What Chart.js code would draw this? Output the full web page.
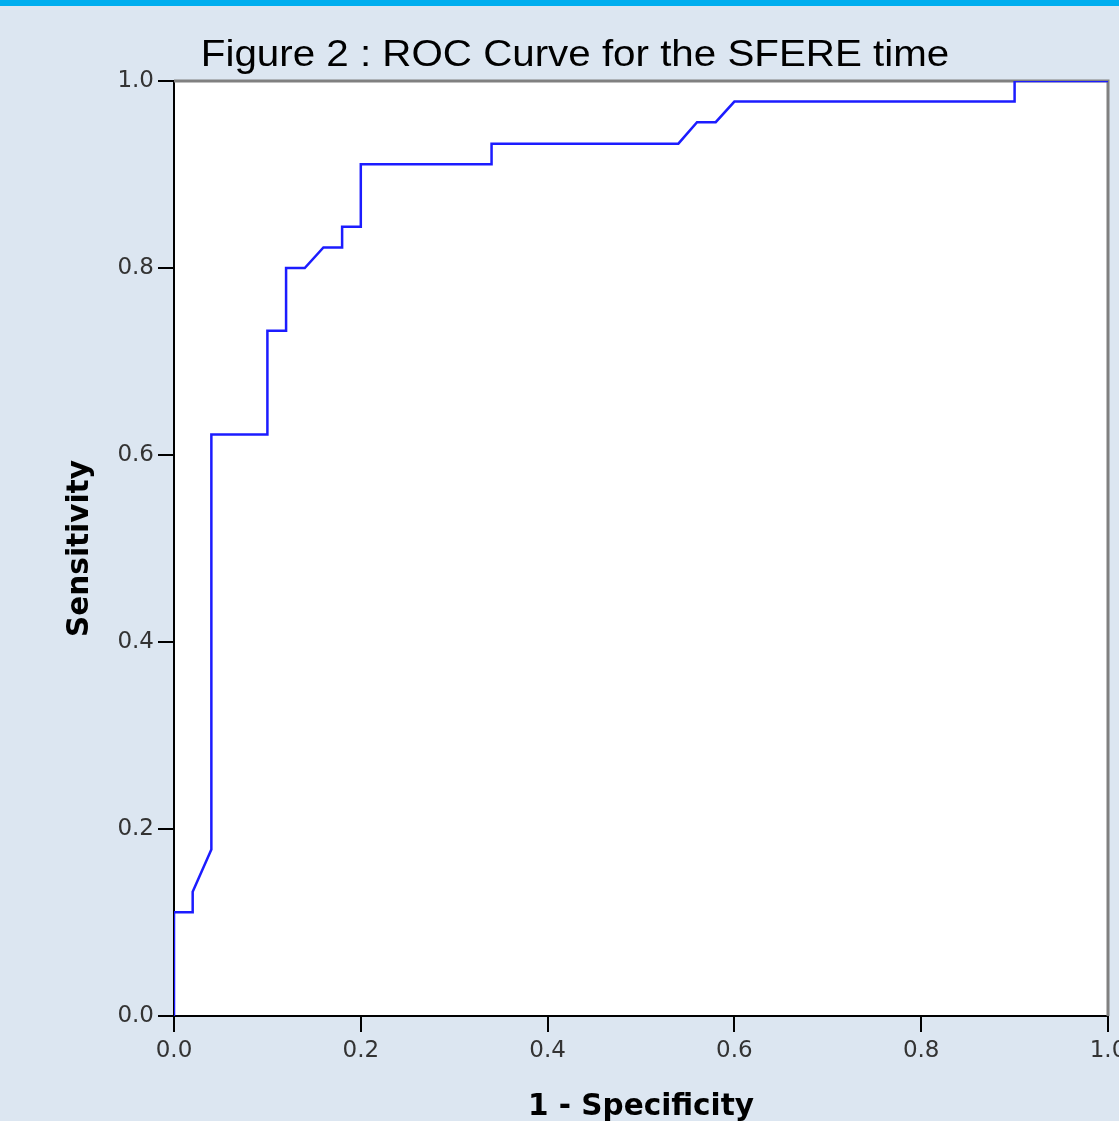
<!DOCTYPE html>
<html>
<head>
<meta charset="utf-8">
<title>ROC Curve for the SFERE time</title>
<script src="https://cdn.jsdelivr.net/npm/chart.js@4.4.1/dist/chart.umd.min.js"></script>
<style>
    html, body { margin: 0; padding: 0; background: #dce6f1; overflow: hidden; }
    #wrap { position: absolute; left: 0; top: 0; width: 1119px; height: 1121px; }
    #topBar { position: absolute; left: 0; top: 0; width: 1119px; height: 6px; background: #00aeef; }
</style>
</head>
<body>
<div id="wrap"><canvas id="rocChart"></canvas></div>
<div id="topBar"></div>
<script>
const chartTitle = 'Figure 2 : ROC Curve for the SFERE time';
const xAxisTitle = '1 - Specificity';
const yAxisTitle = 'Sensitivity';

// corners of the ROC curve: 1 - specificity (x) and sensitivity (y)
const falsePosRate = [0.00, 0.00, 0.02, 0.02, 0.04, 0.04, 0.10, 0.10, 0.12, 0.12, 0.14, 0.16, 0.18,
                      0.18, 0.20, 0.20, 0.34, 0.34, 0.54, 0.56, 0.58, 0.60, 0.90, 0.90, 1.00];
const truePosRate  = [0.000, 0.111, 0.111, 0.133, 0.178, 0.622, 0.622, 0.733, 0.733, 0.800, 0.800, 0.822, 0.822,
                      0.844, 0.844, 0.911, 0.911, 0.933, 0.933, 0.956, 0.956, 0.978, 0.978, 1.000, 1.000];

const xTicks = [0, 0.2, 0.4, 0.6, 0.8, 1.0];
const yTicks = [0, 0.2, 0.4, 0.6, 0.8, 1.0];

document.addEventListener('DOMContentLoaded', () => {
    setupRocChart();
});

// white plot area, grey top/right frame and the (slightly stretched) title
const plotFrame = {
    id: 'plotFrame',
    beforeDraw(chart) {
        const { ctx, chartArea: a } = chart;
        ctx.save();
        ctx.fillStyle = '#ffffff';
        ctx.fillRect(a.left, a.top, a.right - a.left, a.bottom - a.top);
        ctx.restore();
    },
    beforeDatasetsDraw(chart) {
        const { ctx, chartArea: a } = chart;
        ctx.save();
        ctx.strokeStyle = '#808080';
        ctx.lineWidth = 3;
        ctx.beginPath();
        ctx.moveTo(a.left, a.top);
        ctx.lineTo(a.right, a.top);
        ctx.lineTo(a.right, a.bottom);
        ctx.stroke();
        ctx.restore();
    },
    afterDraw(chart) {
        const ctx = chart.ctx;
        ctx.save();
        ctx.translate(575, 66);
        ctx.scale(1.12, 1);
        ctx.fillStyle = '#000';
        ctx.font = '36px "Liberation Sans", Arial, sans-serif';
        ctx.textAlign = 'center';
        ctx.textBaseline = 'alphabetic';
        ctx.fillText(chartTitle, 0, 0);
        ctx.restore();
    }
};

function setupRocChart() {
    const points = falsePosRate.map((x, i) => ({ x, y: truePosRate[i] }));
    const tickFont = { family: 'DejaVu Sans', size: 23 };
    const titleFont = { family: 'DejaVu Sans', size: 29.5, weight: 'bold' };

    const ctx = document.getElementById('rocChart').getContext('2d');
    new Chart(ctx, {
        type: 'scatter',
        data: {
            datasets: [{
                data: points,
                showLine: true,
                borderColor: '#1c1cff',
                borderWidth: 2.5,
                pointRadius: 0,
                fill: false,
                tension: 0
            }]
        },
        options: {
            responsive: true,
            maintainAspectRatio: false,
            animation: false,
            devicePixelRatio: 1,
            layout: { padding: { top: 81, right: 11, left: 0, bottom: 0 } },
            plugins: {
                legend: { display: false },
                tooltip: { enabled: false }
            },
            scales: {
                x: {
                    type: 'linear', min: 0, max: 1,
                    afterBuildTicks: s => { s.ticks = xTicks.map(v => ({ value: v })); },
                    afterFit: s => { s.height = 105; s.paddingLeft = 0; s.paddingRight = 0; },
                    grid: { drawOnChartArea: false, tickLength: 16, color: '#000', lineWidth: 2 },
                    border: { color: '#000', width: 2 },
                    ticks: { color: '#333', font: tickFont, padding: 5, maxRotation: 0, autoSkip: false,
                             callback: v => v.toFixed(1) },
                    title: { display: true, text: xAxisTitle, color: '#000', font: titleFont, padding: { top: 0, bottom: -4 } }
                },
                y: {
                    type: 'linear', min: 0, max: 1,
                    afterBuildTicks: s => { s.ticks = yTicks.map(v => ({ value: v })); },
                    afterFit: s => { s.width = 174; s.paddingTop = 0; s.paddingBottom = 0; },
                    grid: { drawOnChartArea: false, tickLength: 16, color: '#000', lineWidth: 2 },
                    border: { color: '#000', width: 2 },
                    ticks: { color: '#333', font: tickFont, padding: 4, autoSkip: false,
                             callback: v => v.toFixed(1) },
                    title: { display: true, text: yAxisTitle, color: '#000', font: titleFont, padding: { top: 63, bottom: 0 } }
                }
            }
        },
        plugins: [plotFrame]
    });
}
</script>
</body>
</html>
